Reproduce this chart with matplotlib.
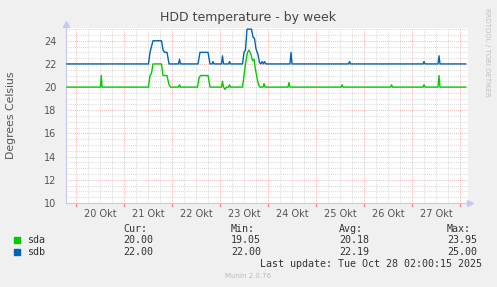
"""
HDD temperature - by week (munin style)
"""

import matplotlib

matplotlib.use("Agg")
import matplotlib.pyplot as plt
import numpy as np

# time in days since 20 Okt 00:00, values in degrees Celsius
sda_t = [-0.19, 0.51, 0.527, 0.542, 1.51, 1.542, 1.573, 1.604, 1.781, 1.813, 1.896,
         1.938, 1.969, 2.135, 2.156, 2.177, 2.531, 2.563, 2.594, 2.75, 2.792, 3.031,
         3.052, 3.073, 3.104, 3.135, 3.177, 3.198, 3.219, 3.469, 3.5, 3.531, 3.573,
         3.604, 3.646, 3.677, 3.708, 3.74, 3.771, 3.802, 3.833, 3.896, 3.917, 3.938,
         4.417, 4.438, 4.458, 5.521, 5.542, 5.563, 6.552, 6.573, 6.594, 7.229,
         7.25, 7.271, 7.542, 7.563, 7.583, 8.119]
sda_v = [20, 20, 21, 20, 20, 21, 21.2, 22, 22, 21, 21,
         20.2, 20, 20, 20.2, 20, 20, 20.8, 21, 21, 20, 20,
         20.5, 20, 19.8, 20, 20, 20.2, 20, 20, 21, 22, 23,
         23.2, 22.8, 22.3, 22.4, 21.5, 20.8, 20.2, 20, 20, 20.3, 20,
         20, 20.4, 20, 20, 20.2, 20, 20, 20.2, 20, 20,
         20.2, 20, 20, 21, 20, 20]

sdb_t = [-0.19, 1.51, 1.542, 1.573, 1.604, 1.781, 1.813, 1.844, 1.896, 1.938, 2.135,
         2.156, 2.177, 2.542, 2.583, 2.75, 2.792, 2.833, 2.854, 2.875, 3.031, 3.052,
         3.073, 3.177, 3.198, 3.219, 3.469, 3.5, 3.531, 3.563, 3.656, 3.688, 3.719,
         3.75, 3.792, 3.823, 3.854, 3.875, 3.906, 3.927, 3.958, 4.458, 4.479, 4.5,
         5.677, 5.698, 5.719, 7.229, 7.25, 7.271, 7.542, 7.563, 7.583, 8.119]
sdb_v = [22, 22, 23, 23.5, 24, 24, 23.2, 23, 23, 22, 22,
         22.4, 22, 22, 23, 23, 22, 22, 22.2, 22, 22, 22.7,
         22, 22, 22.2, 22, 22, 23, 23.2, 25, 25, 24.3, 24.2,
         23.3, 22.8, 22.1, 22, 22.2, 22, 22.2, 22, 22, 23, 22,
         22, 22.2, 22, 22, 22.2, 22, 22, 22.7, 22, 22]

day_labels = ["20 Okt", "21 Okt", "22 Okt", "23 Okt", "24 Okt", "25 Okt", "26 Okt", "27 Okt"]
y_ticks = [10, 12, 14, 16, 18, 20, 22, 24]

names = ["sda", "sdb"]
colors = ["#00CC00", "#0066B3"]
cur = ["20.00", "22.00"]
mins = ["19.05", "22.00"]
avgs = ["20.18", "22.19"]
maxs = ["23.95", "25.00"]

W, H = 497, 287
fig = plt.figure(figsize=(W / 100, H / 100), dpi=100, facecolor="#F0F0F0")
ax = fig.add_axes([66 / W, (H - 203) / H, 402 / W, 175 / H])
ax.set_facecolor("white")

x0, x1 = -10 / 48, 392 / 48
y0, y1 = 10, 25.1
ax.set_xlim(x0, x1)
ax.set_ylim(y0, y1)

# grid
for v in np.arange(10.5, 25.1, 0.5):
    if v % 2 != 0:
        ax.axhline(v, color="#CCCCCC", lw=0.6, ls=(0, (1, 1.5)), zorder=1)
for v in np.arange(-0.25, 8.2, 0.25):
    if abs(v - round(v)) > 1e-6:
        ax.axvline(v, color="#CCCCCC", lw=0.6, ls=(0, (1, 1.5)), zorder=1)
for v in y_ticks[1:]:
    ax.axhline(v, color="#F0A0A0", lw=0.6, ls=(0, (1, 1.5)), zorder=1)
for d in range(0, 9):
    ax.axvline(d, color="#F0A0A0", lw=0.6, ls=(0, (1, 1.5)), zorder=1)

ax.plot(sda_t, sda_v, color=colors[0], lw=1.0, zorder=3)
ax.plot(sdb_t, sdb_v, color=colors[1], lw=1.0, zorder=3)

for s in ["top", "right"]:
    ax.spines[s].set_visible(False)
for s in ["left", "bottom"]:
    ax.spines[s].set_color("#C8C8F0")
    ax.spines[s].set_linewidth(0.8)
ax.plot([x0], [y1 + 0.35], marker="^", color="#C8C8F0", ms=4, clip_on=False)
ax.plot([x1 + 0.04], [y0], marker=">", color="#C8C8F0", ms=4, clip_on=False)

ax.set_yticks(y_ticks)
ax.set_yticklabels([str(v) for v in y_ticks])
ax.set_xticks(np.arange(8) + 0.5)
ax.set_xticklabels(day_labels)
ax.tick_params(axis="both", length=0, labelsize=7, colors="#555555", pad=4)
ax.tick_params(axis="y", pad=7)
for d in range(0, 9):
    ax.plot([d, d], [y0, y0 - 0.25], color="#F08080", lw=0.8, clip_on=False)

ax.set_ylabel("Degrees Celsius", fontsize=7.8, color="#555555", labelpad=20)
fig.text(248 / W, 1 - 18 / H, "HDD temperature - by week", ha="center", va="center",
         fontsize=9, color="#444444")
fig.text(487 / W, 1 - 52 / H, "RRDTOOL / TOBI OETIKER", rotation=270, ha="center",
         va="center", fontsize=5, color="#C0C0C0")

# legend block
mono = dict(family="DejaVu Sans Mono", fontsize=7.2, color="#333333", va="center")
cols = [123, 231, 339, 447]
heads = ["Cur:", "Min:", "Avg:", "Max:"]
for cx, h in zip(cols, heads):
    fig.text(cx / W, 1 - 229 / H, h, **mono)
rows = [240, 252]
for i, ry in enumerate(rows):
    fig.patches.append(plt.Rectangle((14 / W, 1 - (ry + 3) / H), 6 / W, 6 / H,
                                     transform=fig.transFigure, color=colors[i]))
    fig.text(27 / W, 1 - ry / H, names[i], **mono)
    for cx, val in zip(cols, [cur[i], mins[i], avgs[i], maxs[i]]):
        fig.text(cx / W, 1 - ry / H, val, **mono)
fig.text(482 / W, 1 - 264 / H, "Last update: Tue Oct 28 02:00:15 2025", ha="right",
         **mono)
fig.text(248 / W, 1 - 276 / H, "Munin 2.0.76", ha="center", va="center",
         fontsize=5, color="#BBBBBB")

fig.savefig("out.png", dpi=100, facecolor=fig.get_facecolor())
